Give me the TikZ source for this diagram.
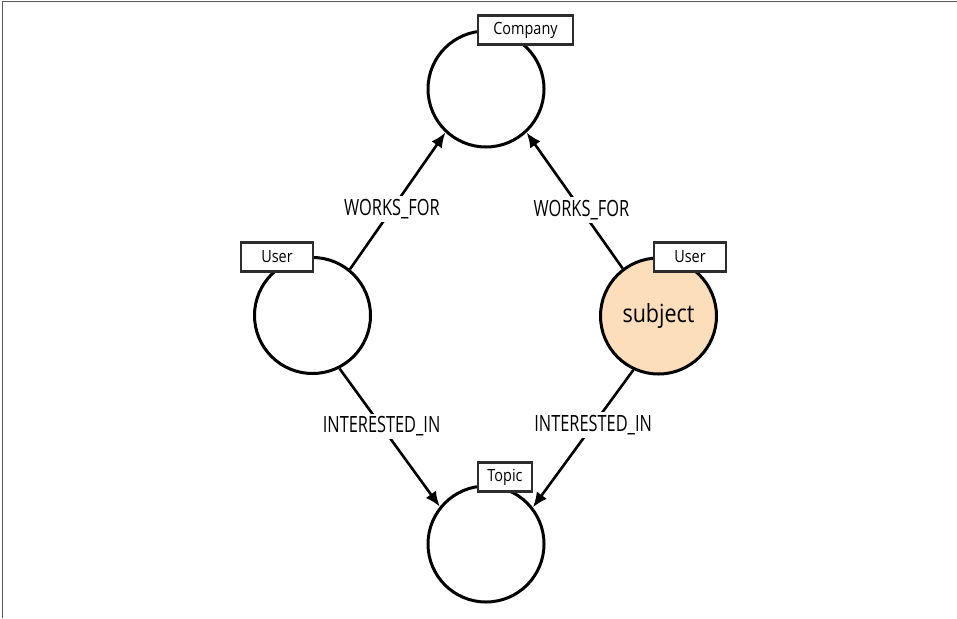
\documentclass[tikz,border=0pt]{standalone}
\usepackage{fontspec}
\setmainfont[FakeStretch=0.73]{Open Sans}
\newfontfamily\tagfont[FakeStretch=0.86]{Open Sans}
\usetikzlibrary{arrows.meta}
\definecolor{peach}{RGB}{252,222,186}
\definecolor{boxline}{RGB}{45,45,45}
\definecolor{frameline}{RGB}{90,90,90}
\tikzset{
  ent/.style={circle, draw=black, line width=3pt, minimum size=116pt, inner sep=0pt, fill=white},
  tag/.style={draw=boxline, line width=2.5pt, fill=white, minimum height=29pt, inner sep=0pt, font=\tagfont\fontsize{16.8}{18}\selectfont},
  rel/.style={draw=black, line width=2.6pt, -{Latex[length=15pt,width=12.5pt]}},
  rellab/.style={fill=white, inner sep=3pt, font=\fontsize{22.4}{24}\selectfont}
}
\begin{document}
\begin{tikzpicture}[x=1pt,y=-1pt]
\useasboundingbox (0,0) rectangle (957,618);
\draw[frameline, line width=1.6pt] (2.5,618) -- (2.5,1.6) -- (957,1.6);

\node[ent] (company) at (486,89) {};
\node[ent] (user) at (312.5,315.5) {};
\node[ent, fill=peach] (subject) at (658.5,316) {\tagfont\fontsize{25}{28}\selectfont subject};
\node[ent] (topic) at (486,544) {};

\draw[rel] (user.51) -- node[rellab, pos=0.44] (l1) {WORKS\_FOR} (company.227);
\draw[rel] (subject.127) -- node[rellab, pos=0.43] (l2) {WORKS\_FOR} (company.-47);
\draw[rel] (user.-63) -- node[rellab, pos=0.42] (l3) {INTERESTED\_IN} (topic.141);
\draw[rel] (subject.245) -- node[rellab, pos=0.40] (l4) {INTERESTED\_IN} (topic.38.5);

\node[tag, minimum width=95pt] (tcompany) at (525.5,30) {Company};
\node[tag, minimum width=72pt] (tuser) at (277,257) {User};
\node[tag, minimum width=72pt] (tsubject) at (690,257) {User};
\node[tag, minimum width=54pt] (ttopic) at (505,477) {Topic};
\end{tikzpicture}
\end{document}
